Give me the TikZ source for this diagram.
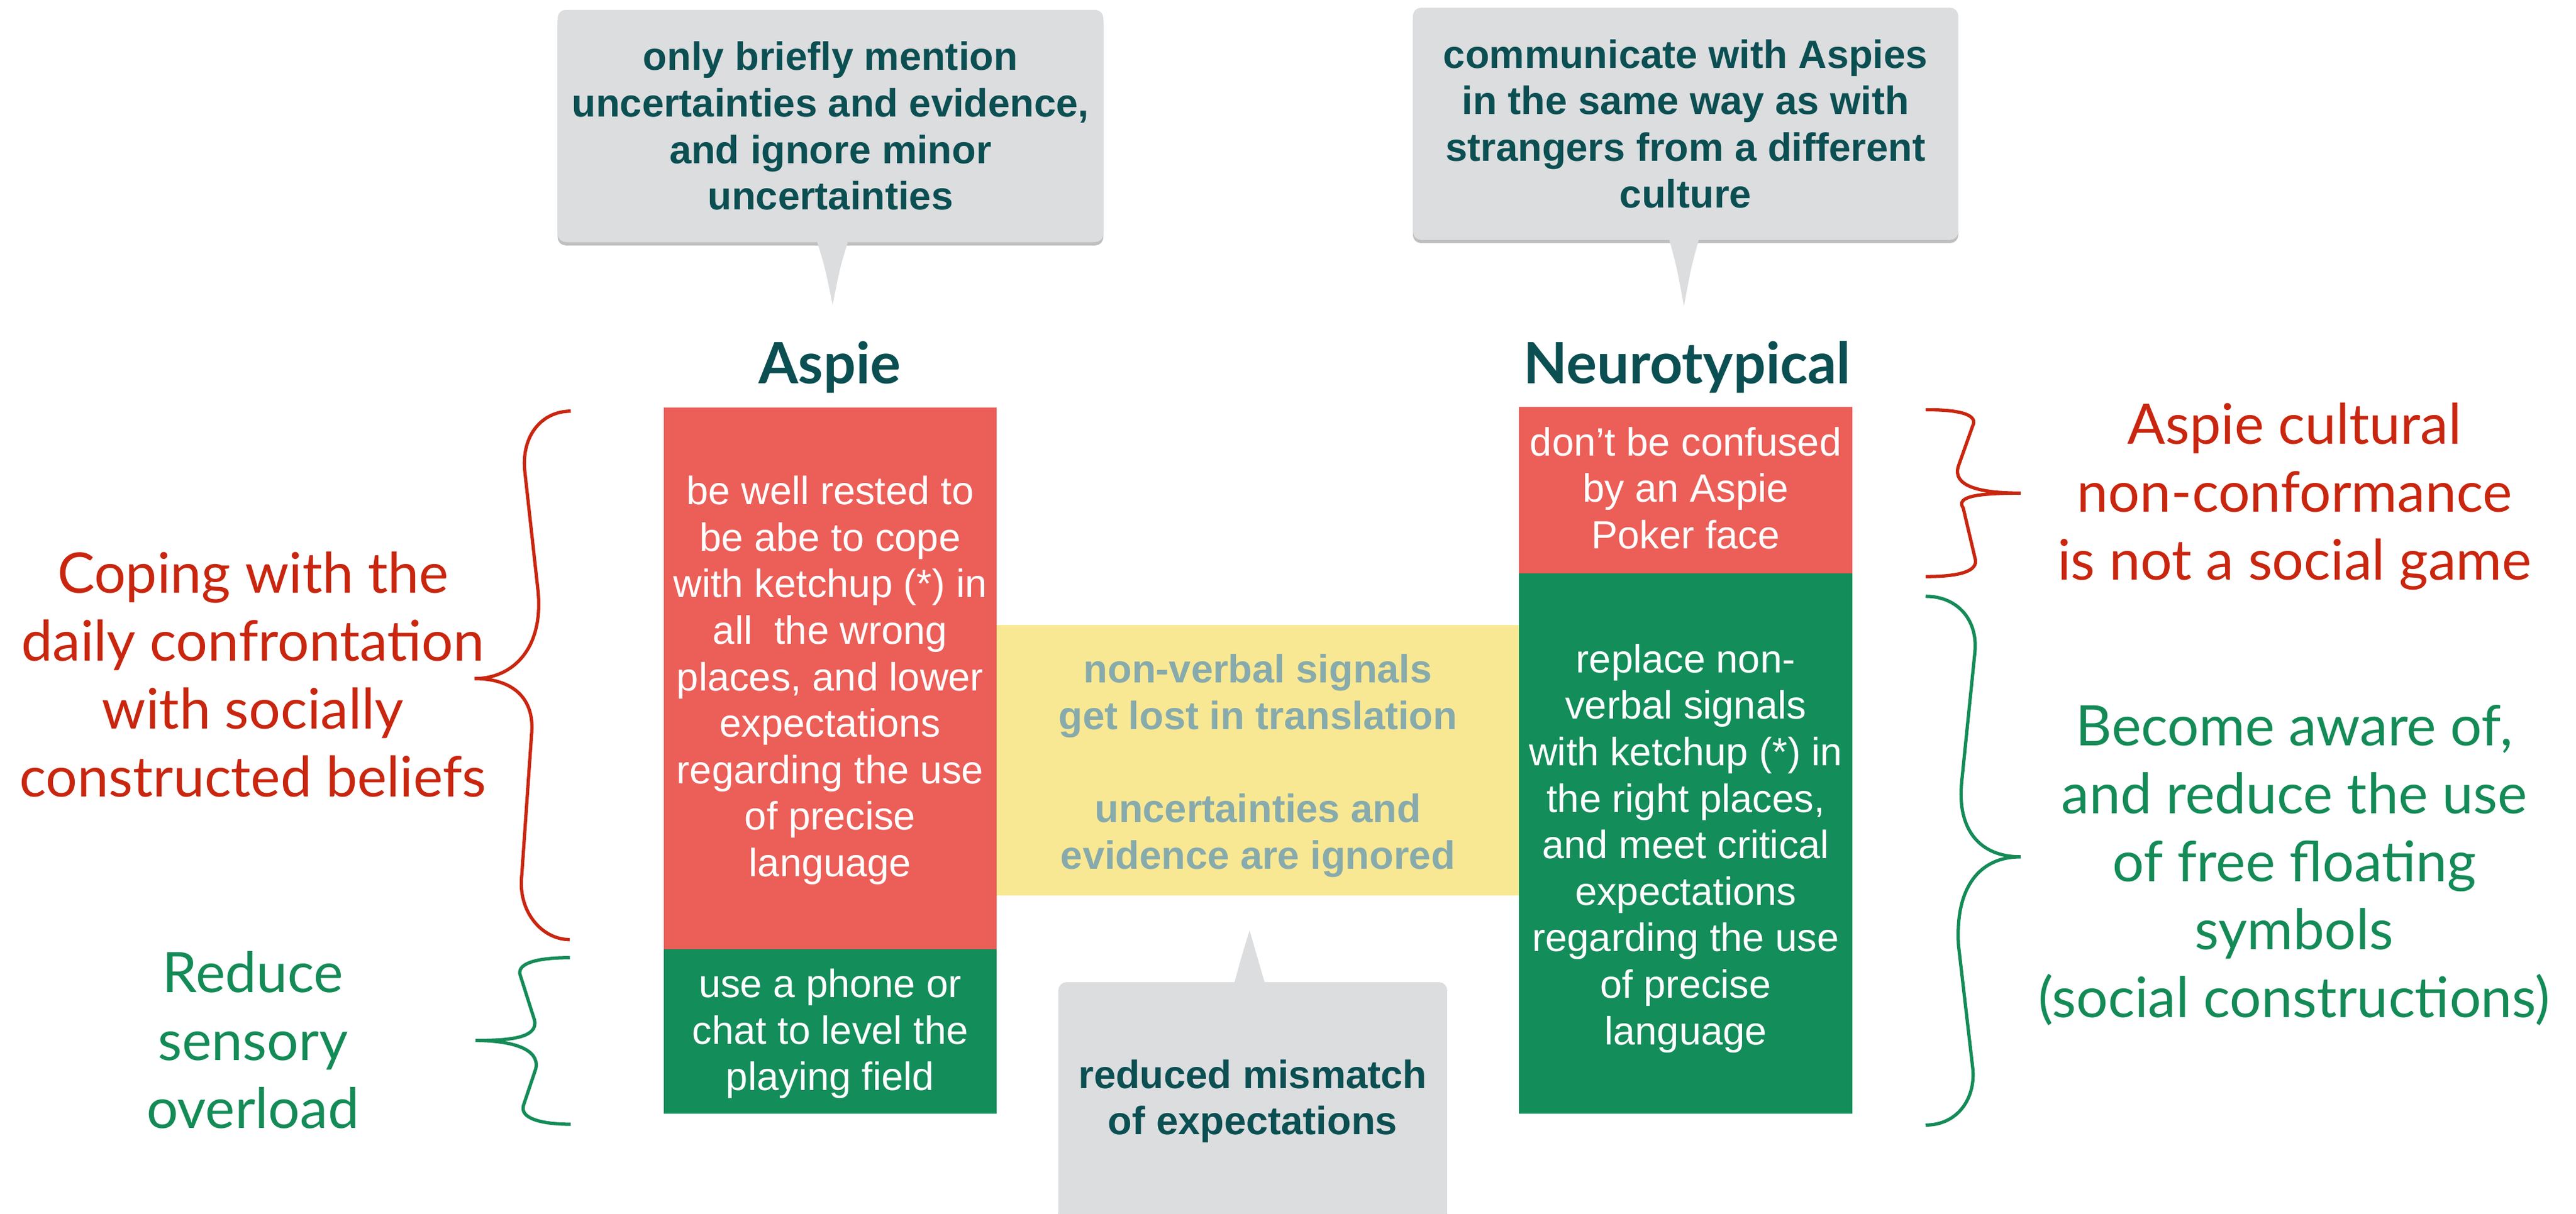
\documentclass[tikz,border=0pt]{standalone}
\usepackage{fontspec}
\setmainfont{Liberation Sans}
\newfontfamily\gill{Lato}
\usetikzlibrary{shadows}
\definecolor{boxred}{RGB}{236,94,88}
\definecolor{boxgreen}{RGB}{19,141,90}
\definecolor{bandyellow}{RGB}{249,232,147}
\definecolor{bandtext}{RGB}{135,170,172}
\definecolor{calloutgray}{RGB}{220,221,223}
\definecolor{darkteal}{RGB}{11,79,82}
\definecolor{labelred}{RGB}{201,38,15}
\definecolor{labelgreen}{RGB}{20,139,87}
\begin{document}
\begin{tikzpicture}[x=1pt,y=-1pt,
  fillbox/.style={rectangle, inner sep=0pt},
  boxtext/.style={inner sep=0pt, align=center, text=white,
    font=\fontsize{24}{28.3}\selectfont},
  callout/.style={rectangle, rounded corners=5pt, fill=calloutgray, inner sep=0pt,
    align=center, text=darkteal, font=\bfseries\fontsize{24}{28.3}\selectfont,
    drop shadow={shadow xshift=0pt, shadow yshift=-2pt, opacity=0.25, fill=black}},
  pointer/.style={fill=calloutgray},
  sidelabel/.style={font=\gill\fontsize{34}{41.3}\selectfont, align=center, inner sep=0pt},
  header/.style={font=\gill\bfseries\fontsize{34.7}{40}\selectfont, text=darkteal, inner sep=0pt},
  brace/.style={line width=2pt}]
\useasboundingbox[fill=white] (0,0) rectangle (1568,739.04);

% yellow band
\node[fillbox, fill=bandyellow, minimum width=318pt, minimum height=164.9pt] (band) at (765.7,462.85) {};
\node[boxtext, text=bandtext, font=\bfseries\fontsize{24}{28.3}\selectfont] (bandtxt) at (765.7,466.15)
  {non-verbal signals\\get lost in translation\\[28.3pt]uncertainties and\\evidence are ignored};

% Aspie boxes
\node[fillbox, fill=boxred, minimum width=202.7pt, minimum height=329.7pt] (aspred) at (505.35,412.85) {};
\node[boxtext] (aspredtxt) at (505.35,414.2)
  {be well rested to\\be abe to cope\\with ketchup (*) in\\all\ \ the wrong\\places, and lower\\expectations\\regarding the use\\of precise\\language};
\node[fillbox, fill=boxgreen, minimum width=202.7pt, minimum height=100.1pt] (aspgreen) at (505.35,627.75) {};
\node[boxtext] (aspgreentxt) at (505.35,629.4)
  {use a phone or\\chat to level the\\playing field};

% Neurotypical boxes
\node[fillbox, fill=boxred, minimum width=202.8pt, minimum height=101.3pt] (ntred) at (1026.1,298.35) {};
\node[boxtext] (ntredtxt) at (1026.1,297.2)
  {don’t be confused\\by an Aspie\\Poker face};
\node[fillbox, fill=boxgreen, minimum width=202.8pt, minimum height=328.8pt] (ntgreen) at (1026.1,513.4) {};
\node[boxtext] (ntgreentxt) at (1026.1,516.45)
  {replace non-\\verbal signals\\with ketchup (*) in\\the right places,\\and meet critical\\expectations\\regarding the use\\of precise\\language};

% headers
\node[header, anchor=base] (aspie) at (505,233.6) {Aspie};
\node[header, anchor=base] (nt) at (1027,233.6) {Neurotypical};

% callouts
\node[callout, minimum width=332.2pt, minimum height=141.4pt] (cl) at (505.5,76.7)
  {only briefly mention\\uncertainties and evidence,\\and ignore minor\\uncertainties};
\coordinate (clTip) at (506.8,185.6);
\fill[pointer] (497,146) .. controls (502,162) .. (clTip) .. controls (511.5,162) .. (516.5,146) -- cycle;

\node[callout, minimum width=332pt, minimum height=141.3pt] (cr) at (1026,75.35)
  {communicate with Aspies\\in the same way as with\\strangers from a different\\culture};
\coordinate (crTip) at (1025,186.4);
\fill[pointer] (1015.8,145) .. controls (1020.5,162) .. (crTip) .. controls (1029.5,162) .. (1034.3,145) -- cycle;

\node[callout, minimum width=236.7pt, minimum height=145.1pt] (cb) at (762.55,670.45)
  {reduced mismatch\\of expectations};
\coordinate (cbTip) at (760.6,566.4);
\fill[pointer] (751.1,599.3) .. controls (755.5,583) .. (cbTip) .. controls (765.5,583) .. (770.1,599.3) -- cycle;

% side labels
\node[sidelabel, text=labelred] (coping) at (154,410.6)
  {Coping with the\\daily confrontation\\with socially\\constructed beliefs};
\node[sidelabel, text=labelgreen] (sensory) at (154,633.2)
  {Reduce\\sensory\\overload};
\node[sidelabel, text=labelred] (culture) at (1396.7,302.3)
  {Aspie cultural\\non-conformance\\is not a social game};
\node[sidelabel, text=labelgreen] (aware) at (1396.5,526.8)
  {Become aware of,\\and reduce the use\\of free floating\\symbols\\(social constructions)};

% braces
\draw[brace, labelred] (347.4,250.3) .. controls (330,250.3) and (317,265) .. (319.5,287.4)
  -- (327.5,359.7) .. controls (331,395) and (312,413.1) .. (288.9,413.1)
  .. controls (312,413.1) and (326,425) .. (323.5,447.8)
  -- (317.6,532.7) .. controls (315,555) and (330,572) .. (346.8,572);
\draw[brace, labelgreen] (346.9,583) .. controls (325,583) and (314,587) .. (316.8,594.1)
  -- (325.3,620.8) .. controls (328,632) and (310,633.4) .. (289.4,633.4)
  .. controls (310,633.4) and (329,638) .. (326.1,650.7)
  -- (318.7,672.7) .. controls (316,681) and (330,684.4) .. (347.4,684.4);
\draw[brace, labelred] (1172.1,249.4) .. controls (1195,249.4) and (1204,253) .. (1200.7,259.4)
  -- (1192.1,283.6) .. controls (1188,296) and (1205,300.2) .. (1229.9,300.2)
  .. controls (1205,300.2) and (1190,302) .. (1195,309.3)
  -- (1202.1,339.5) .. controls (1205,348) and (1192,351) .. (1172.1,351);
\draw[brace, labelgreen] (1172.1,363) .. controls (1192,363) and (1204,378) .. (1202.1,397)
  -- (1194.1,475.6) .. controls (1191,505) and (1205,521.6) .. (1229.9,521.6)
  .. controls (1205,521.6) and (1190,540) .. (1192.1,575.4)
  -- (1200.7,649.5) .. controls (1203,668) and (1192,684.9) .. (1172.1,684.9);
\end{tikzpicture}
\end{document}
